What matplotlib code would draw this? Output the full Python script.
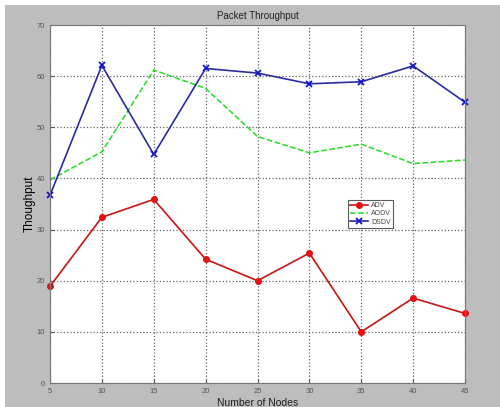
import numpy as np
import matplotlib.pyplot as plt
from matplotlib.patches import Rectangle

# Datos
nodes = [5, 10, 15, 20, 25, 30, 35, 40, 45]
adv = [18.9, 32.4, 35.9, 24.2, 20.0, 25.4, 10.0, 16.6, 13.6]
aodv = [39.7, 45.2, 61.2, 57.6, 48.2, 45.0, 46.7, 42.9, 43.6]
dsdv = [36.7, 62.1, 44.7, 61.5, 60.6, 58.5, 58.9, 62.0, 54.9]
yticks = [0, 10, 20, 30, 40, 50, 60, 70]

plt.rcParams['font.family'] = ['Liberation Sans', 'DejaVu Sans']

fig = plt.figure(figsize=(5.0, 4.07), dpi=100)
fig.patch.set_facecolor('white')
# fondo gris tipo ventana de MATLAB (con franja blanca arriba e izquierda)
fig.add_artist(Rectangle((5 / 500, 0), 1, 1 - 5 / 407, transform=fig.transFigure,
                         facecolor='#bdbdbd', edgecolor='none', zorder=-10))

ax = fig.add_axes([50 / 500, 1 - 383 / 407, 415 / 500, 358 / 407])
ax.set_zorder(1)
ax.set_facecolor('white')

ax.plot(nodes, adv, '-o', color='#c81414', markerfacecolor='#ee1010', markeredgecolor='#dd1010',
        markersize=4, linewidth=1.2, label='ADV', clip_on=False)
ax.plot(nodes, aodv, '--', color='#22dd22', linewidth=1.1, label='AODV', clip_on=False)
ax.plot(nodes, dsdv, '-x', color='#2b2ba0', markeredgecolor='#1515d0', markersize=4.5,
        markeredgewidth=1.3, linewidth=1.2, label='DSDV', clip_on=False)

ax.set_xlim(5, 45)
ax.set_ylim(0, 70)
ax.set_xticks(nodes)
ax.set_yticks(yticks)
ax.grid(True, linestyle=':', color='#666666', linewidth=0.9)
ax.tick_params(direction='in', labelsize=5.5, colors='#555555', length=3)
for s in ax.spines.values():
    s.set_color('#777777')

ax.set_title('Packet Throughput', fontsize=7, color='#222222', pad=4)
ax.set_xlabel('Number of Nodes', fontsize=7.5, color='#222222', labelpad=2)
ax.set_ylabel('Thoughput', fontsize=8.5, color='#000000', labelpad=1)

leg = ax.legend(loc='upper left', bbox_to_anchor=((348 - 50) / 415, (383 - 200) / 358),
                fontsize=5, frameon=True, fancybox=False, handlelength=2.6,
                borderpad=0.3, labelspacing=0.2, handletextpad=0.4, borderaxespad=0)
leg.get_frame().set_edgecolor('#333333')
leg.get_frame().set_linewidth(0.8)
for t in leg.get_texts():
    t.set_color('#444444')

fig.savefig('out.png', dpi=100)
